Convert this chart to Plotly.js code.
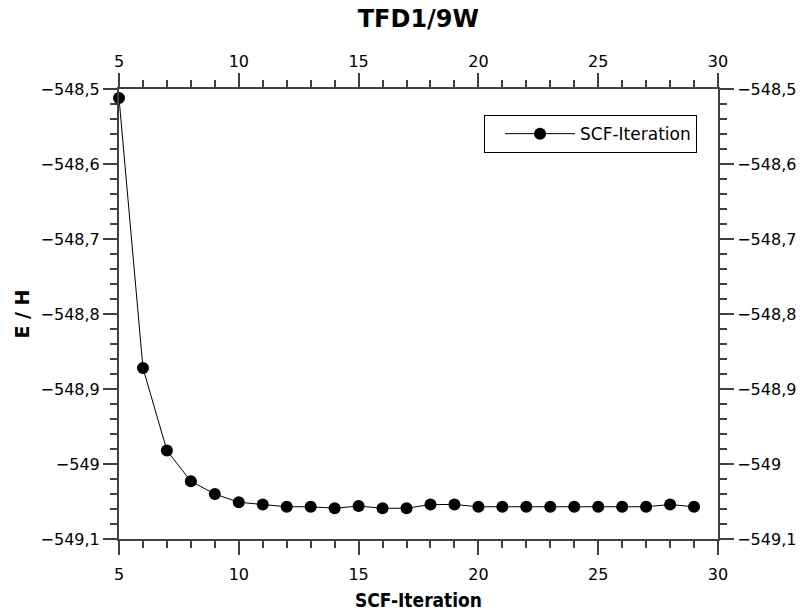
<!DOCTYPE html>
<html>
<head>
<meta charset="utf-8">
<script src="https://cdn.plot.ly/plotly-3.0.1.min.js"></script>
<style>html,body{margin:0;padding:0;background:#fff;}#chart{width:803px;height:615px;}</style>
</head>
<body>
<div id="chart"></div>
<script>
const iterations = [5,6,7,8,9,10,11,12,13,14,15,16,17,18,19,20,21,22,23,24,25,26,27,28,29];
const energies = [-548.512,-548.872,-548.982,-549.023,-549.040,-549.051,-549.054,-549.057,-549.057,-549.059,-549.056,-549.059,-549.059,-549.054,-549.054,-549.057,-549.057,-549.057,-549.057,-549.057,-549.057,-549.057,-549.057,-549.054,-549.057];
const seriesName = 'SCF-Iteration';
const chartTitle = 'TFD1/9W';
const xTitle = 'SCF-Iteration';
const yTitle = 'E / H';

const tickFont = {family: 'DejaVu Sans', size: 16, color: '#000'};
const axisCommon = {
  showgrid: false, zeroline: false, showline: true, linecolor: '#404040', linewidth: 2,
  ticks: 'outside', ticklen: 14, tickwidth: 2, tickcolor: '#404040', tickfont: tickFont
};
const xRange = [5, 30], yRange = [-549.1, -548.5];
const xMinor = {ticks: 'outside', ticklen: 7, tickwidth: 2, tickcolor: '#404040', dtick: 1};
const yMinor = {ticks: 'outside', ticklen: 7, tickwidth: 2, tickcolor: '#404040', dtick: 0.02};

const trace = {
  x: iterations, y: energies, name: seriesName, type: 'scatter', mode: 'lines+markers',
  line: {color: '#000', width: 1}, marker: {color: '#000', size: 12, symbol: 'circle'},
  cliponaxis: false
};

const layout = {
  width: 803, height: 615,
  margin: {l: 119, r: 85, t: 89, b: 76},
  paper_bgcolor: '#fff', plot_bgcolor: '#fff',
  separators: ', ',
  title: {text: '<b>' + chartTitle + '</b>', x: 0.521, xanchor: 'center', y: 0.97, yanchor: 'middle',
          font: {family: 'DejaVu Sans', size: 24, color: '#000'}},
  xaxis: Object.assign({}, axisCommon, {range: xRange, dtick: 5, tick0: 5, minor: xMinor, ticklabelstandoff: 6,
    title: {text: '<b>' + xTitle + '</b>', font: {family: 'DejaVu Sans Condensed, DejaVu Sans', size: 19, color: '#000'}, standoff: 10}}),
  xaxis2: Object.assign({}, axisCommon, {range: xRange, dtick: 5, tick0: 5, minor: xMinor, overlaying: 'x', side: 'top'}),
  yaxis: Object.assign({}, axisCommon, {range: yRange, dtick: 0.1, tick0: -549.1, minor: yMinor,
    title: {text: '<b>' + yTitle + '</b>', font: {family: 'DejaVu Sans', size: 19, color: '#000'}, standoff: 6}}),
  yaxis2: Object.assign({}, axisCommon, {range: yRange, dtick: 0.1, tick0: -549.1, minor: yMinor, overlaying: 'y', side: 'right'}),
  showlegend: true,
  legend: {x: 0.965, xanchor: 'right', y: 0.942, yanchor: 'top', bordercolor: '#000', borderwidth: 1,
           bgcolor: '#fff', font: {family: 'DejaVu Sans', size: 17, color: '#000'},
           itemwidth: 70, indentation: 15}
};

const dummy = {x: iterations, y: energies, xaxis: 'x2', yaxis: 'y2', mode: 'none', showlegend: false, hoverinfo: 'skip', type: 'scatter'};

Plotly.newPlot('chart', [trace, dummy], layout, {displayModeBar: false, staticPlot: true});
</script>
</body>
</html>
